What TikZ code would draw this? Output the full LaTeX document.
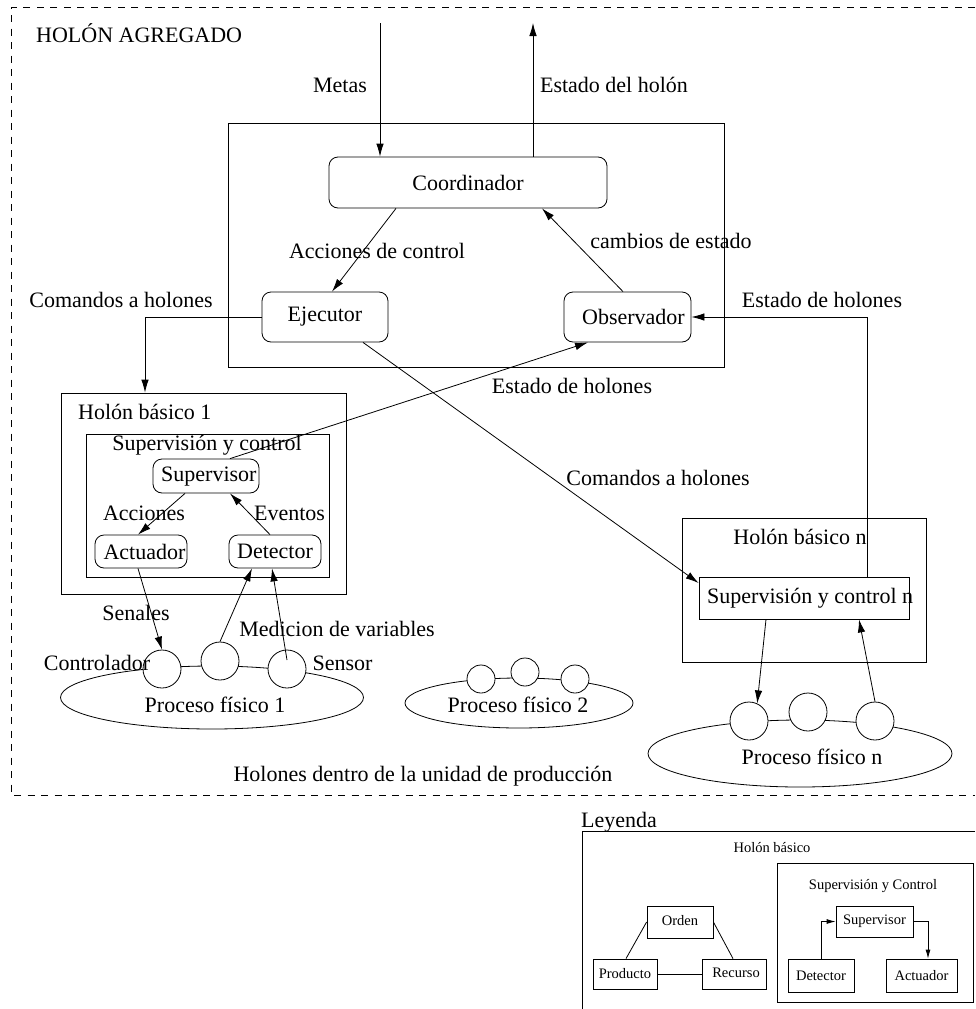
\documentclass[tikz,border=0pt]{standalone}
\usepackage{fontspec}
\setmainfont{Liberation Serif}
\usetikzlibrary{arrows.meta,shapes.geometric,calc}

\tikzset{
  txt/.style={inner sep=0pt, font=\fontsize{22}{24}\selectfont},
  legtxt/.style={inner sep=0pt, font=\fontsize{14.5}{16}\selectfont},
  plain/.style={draw, inner sep=0pt, line width=0.8pt},
  rbox/.style={draw, rounded corners=9pt, inner sep=0pt, line width=0.8pt, font=\fontsize{22}{24}\selectfont},
  lbox/.style={draw, inner sep=0pt, line width=0.8pt, font=\fontsize{14.5}{16}\selectfont},
  proc/.style={draw, ellipse, inner sep=0pt, line width=0.8pt},
  ball/.style={draw, circle, fill=white, inner sep=0pt, line width=0.8pt},
  arr/.style={line width=0.8pt, -{Latex[length=13pt,width=7.5pt]}},
  link/.style={line width=0.8pt},
}

\begin{document}
\begin{tikzpicture}[x=1pt,y=-1pt]
\useasboundingbox (0,0) rectangle (975,1009);

% aggregate holon frame
\draw[line width=0.8pt, dash pattern=on 7pt off 6.5pt] (975,7) -- (11,7) -- (11,795) -- (975,795);
\node[txt, anchor=west] (agg) at (36,33) {HOLÓN AGREGADO};

% coordination level
\node[plain, minimum width=496, minimum height=244] (ctrl) at (476,245) {};
\node[rbox, minimum width=278, minimum height=51] (coord) at (468,182.5) {Coordinador};
\node[rbox, minimum width=126, minimum height=50] (ejec) at (325,317) {Ejecutor};
\node[rbox, minimum width=127, minimum height=50] (obs) at (627.5,317) {\hspace*{12pt}Observador};

\coordinate (metasIn) at (380,23);
\coordinate (estadoOut) at (533,23);
\draw[arr] (metasIn) -- ([xshift=-88pt]coord.north);
\draw[arr] ([xshift=65pt]coord.north) -- (estadoOut);
\node[txt] (lmetas) at (340,85) {Metas};
\node[txt] (lestado) at (614,85) {Estado del holón};

\draw[arr] ([xshift=-72pt]coord.south) -- ([xshift=7pt]ejec.north);
\node[txt] (lacc) at (377,251) {Acciones de control};
\draw[arr] ([xshift=-4.5pt]obs.north) -- ([xshift=74pt]coord.south);
\node[txt] (lcamb) at (671,241) {cambios de estado};

% basic holon 1
\node[plain, minimum width=285, minimum height=201] (hb1) at (203.5,493.5) {};
\node[txt, anchor=west] (lhb1) at (78,412) {Holón básico 1};
\node[plain, minimum width=243, minimum height=143] (sc1) at (207.5,505.5) {};
\node[txt] (lsc1) at (207,445) {Supervisión y control};
\node[rbox, minimum width=106, minimum height=34] (sup1) at (206,476) {};
\node[txt, anchor=west] (tsup1) at (161,477) {Supervisor};
\node[rbox, minimum width=92, minimum height=33] (act1) at (141,551.5) {\hspace*{7pt}Actuador};
\node[rbox, minimum width=92, minimum height=33] (det1) at (275,551.5) {Detector};

\draw[arr] ([xshift=-21pt]sup1.south) -- ([xshift=-3pt]act1.north);
\node[txt] (lacc1) at (144,513) {Acciones};
\draw[arr] ([xshift=-5pt]det1.north) -- ([xshift=24pt]sup1.south);
\node[txt] (lev1) at (289.5,513) {Eventos};

% links between the coordination level and the basic holons
\draw[arr] (ejec.west) -| ([xshift=-58.5pt]hb1.north);
\node[txt] (lcom1) at (121,300) {Comandos a holones};

% basic holon n
\node[plain, minimum width=244, minimum height=144] (hbn) at (804,590) {};
\node[txt] (lhbn) at (800,537) {Holón básico n};
\node[plain, minimum width=210, minimum height=42] (scn) at (804,598) {};
\node[txt, anchor=west] (tscn) at (707,598) {Supervisión y control n};

\draw[arr] ([xshift=63pt]scn.north) |- (obs.east);
\node[txt] (lest2) at (822,300) {Estado de holones};
\draw[arr] ([xshift=24pt]sup1.north) -- ([xshift=-39.5pt]obs.south);
\node[txt] (lest1) at (572,386) {Estado de holones};
\draw[arr] ([xshift=38pt]ejec.south) -- ([yshift=15pt]scn.west);
\node[txt] (lcom2) at (658,478) {Comandos a holones};

% physical process 1
\node[proc, minimum width=303, minimum height=63] (p1) at (212,697.5) {};
\node[ball, minimum size=38] (c11) at (162,669) {};
\node[ball, minimum size=38] (c12) at (220,661) {};
\node[ball, minimum size=38] (c13) at (287,669) {};
\node[txt] (tp1) at (215,705) {Proceso físico 1};
\node[txt] (lctl) at (97,663) {Controlador};
\node[txt] (lsen) at (342.5,663) {Sensor};

\draw[arr] ([xshift=-3pt]act1.south) -- (c11.north);
\node[txt] (lsenales) at (136,613) {Senales};
\draw[arr] (c12.north) -- ([xshift=-23pt]det1.south);
\draw[arr] ([yshift=9pt]c13.center) -- ([xshift=-3pt]det1.south);
\node[txt] (lmed) at (337,629) {Medicion de variables};

% physical process 2
\node[proc, minimum width=228, minimum height=50] (p2) at (519,703) {};
\node[ball, minimum size=28] (c21) at (481,679) {};
\node[ball, minimum size=28] (c22) at (525,672) {};
\node[ball, minimum size=28] (c23) at (575,679) {};
\node[txt] (tp2) at (518,705) {Proceso físico 2};

% physical process n
\node[proc, minimum width=304, minimum height=67] (pn) at (800,753.5) {};
\node[ball, minimum size=38] (cn1) at (749,721) {};
\node[ball, minimum size=38] (cn2) at (808,712) {};
\node[ball, minimum size=38] (cn3) at (875,721) {};
\node[txt] (tpn) at (812,757) {Proceso físico n};

\draw[arr] ([xshift=-38pt]scn.south) -- (cn1.65);
\draw[arr] (cn3.north) -- ([xshift=55pt]scn.south);

\node[txt] (lunit) at (423,776) {Holones dentro de la unidad de producción};

% legend
\node[txt, anchor=west] (lleg) at (581,822) {Leyenda};
\draw[link] (975,831) -- (582,831) -- (582,1009);
\node[legtxt] (lhb) at (772,848) {Holón básico};

\node[lbox, minimum width=66, minimum height=32] (orden) at (680,922) {\raisebox{4pt}{Orden}};
\node[lbox, minimum width=64, minimum height=30] (prod) at (625,974) {\raisebox{2pt}{Producto}};
\node[lbox, minimum width=64, minimum height=30] (rec) at (734,974) {\hspace*{4pt}\raisebox{2pt}{Recurso}};
\draw[link] (orden.west) -- ([xshift=1pt]prod.north);
\draw[link] (orden.east) -- ([xshift=-1pt]rec.north);
\draw[link] (prod.east) -- (rec.west);

\node[plain, minimum width=196, minimum height=139] (lsc) at (875,932.5) {};
\node[legtxt] (tlsc) at (873,886) {Supervisión y Control};
\node[lbox, minimum width=77, minimum height=31] (lsup) at (874.5,921.5) {Supervisor};
\node[lbox, minimum width=66, minimum height=33] (ldet) at (821,975.5) {Detector};
\node[lbox, minimum width=71, minimum height=33] (lact) at (921.5,975.5) {Actuador};
\draw[line width=0.8pt, -{Latex[length=9pt,width=5pt]}] (ldet.north) |- (lsup.west);
\draw[line width=0.8pt, -{Latex[length=9pt,width=5pt]}] (lsup.east) -| ([xshift=6.5pt]lact.north);
\end{tikzpicture}
\end{document}
